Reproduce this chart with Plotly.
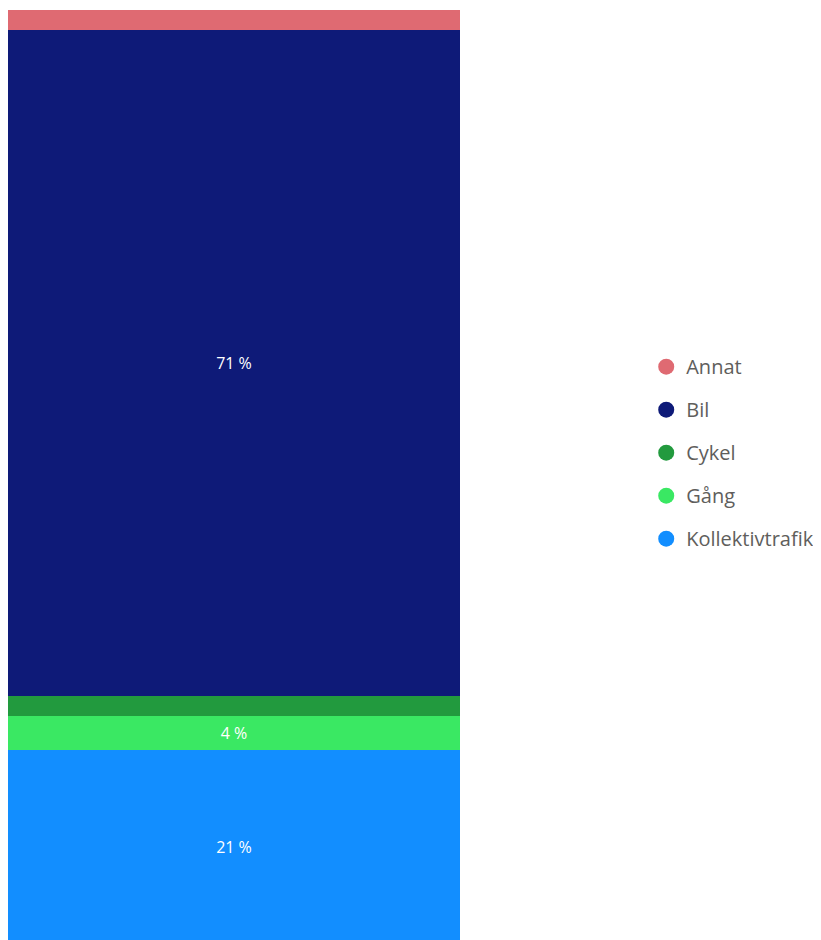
import plotly.graph_objects as go

categories = ["Annat", "Bil", "Cykel", "Gång", "Kollektivtrafik"]
values = [2.1, 71.4, 2.1, 3.7, 20.7]
colors = ["#DF6A72", "#0E1A78", "#229A3E", "#3AE863", "#128EFF"]
bar_x = ["Alla"]

fig = go.Figure()
# stack order bottom to top: Kollektivtrafik, Gång, Cykel, Bil, Annat
for name, val, col in reversed(list(zip(categories, values, colors))):
    label = f"{round(val)} %" if val >= 3 else ""
    fig.add_trace(go.Bar(
        x=bar_x, y=[val], name=name, marker=dict(color=col, line=dict(width=0)),
        text=[label], textposition="inside", insidetextanchor="middle",
        textfont=dict(color="white", size=16, family="Open Sans"),
        showlegend=False, hoverinfo="skip",
    ))

for i, (name, col) in enumerate(zip(categories, colors)):
    fig.add_trace(go.Scatter(
        x=[None], y=[None], mode="markers", name=name, legendgroup=name,
        marker=dict(color=col, size=16, symbol="circle"), legendrank=i,
    ))

fig.update_layout(
    width=813, height=932,
    margin=dict(l=0, r=361, t=2, b=0),
    barmode="stack", bargap=0,
    plot_bgcolor="white", paper_bgcolor="white",
    xaxis=dict(visible=False),
    yaxis=dict(visible=False, range=[0.4, 100]),
    showlegend=True,
    legend=dict(x=1.412, y=0.524, xanchor="left", yanchor="middle",
                font=dict(size=20, color="#605E5C", family="Open Sans"),
                tracegroupgap=14, itemwidth=30, traceorder="grouped"),
)

fig.write_html("out.html")
